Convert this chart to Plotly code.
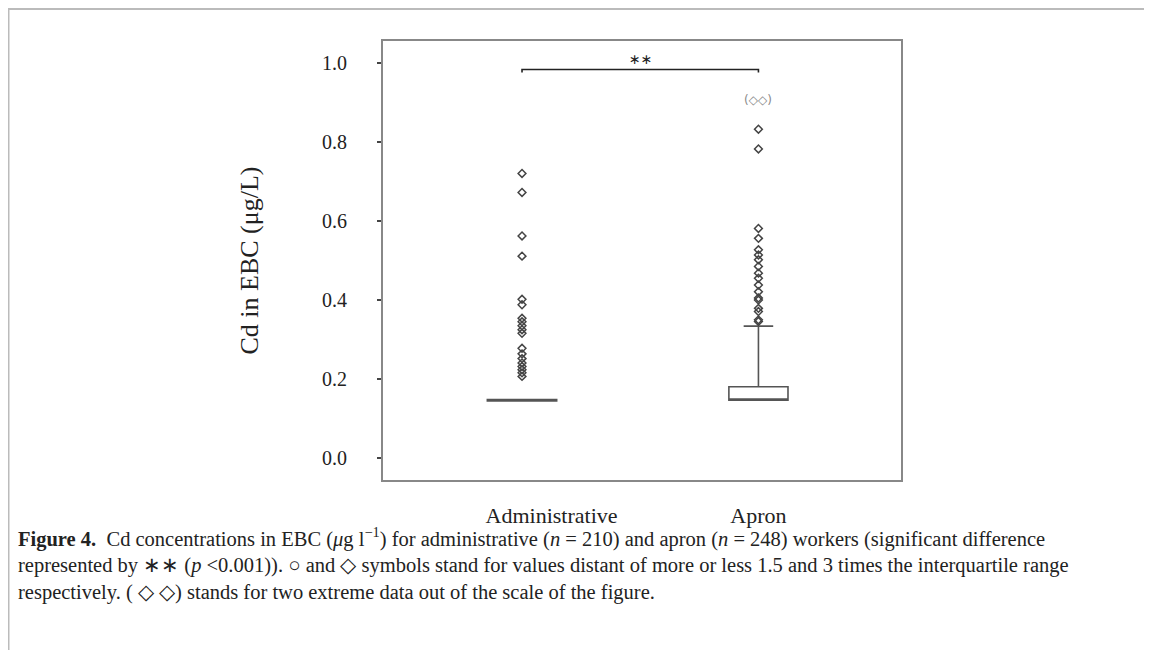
import plotly.graph_objects as go

# ---- data ----
groups = ["Administrative", "Apron"]
positions = [0, 1]
q1 = [0.147, 0.147]
median = [0.147, 0.147]
q3 = [0.147, 0.181]
lower = [0.147, 0.147]
upper = [0.147, 0.334]

admin_outliers = [0.720, 0.672, 0.562, 0.511, 0.402, 0.388, 0.354, 0.345, 0.335,
                  0.325, 0.316, 0.278, 0.264, 0.252, 0.241, 0.232, 0.224, 0.216,
                  0.207]
apron_outliers = [0.832, 0.782, 0.581, 0.556, 0.527, 0.514, 0.502, 0.485, 0.468,
                  0.455, 0.438, 0.421, 0.405, 0.400, 0.379, 0.371, 0.350, 0.346]
extreme_label_y = 0.906
bracket_y = 0.983

y_ticks = [0.0, 0.2, 0.4, 0.6, 0.8, 1.0]
y_ticktext = ["0.0", "0.2", "0.4", "0.6", "0.8", "1.0"]

caption = ("<b>Figure 4.</b>  Cd concentrations in EBC (<i>μ</i>g l<sup>−1</sup>) for administrative (<i>n</i> = 210) "
           "and apron (<i>n</i> = 248) workers (significant difference<br>"
           "represented by ∗∗ (<i>p</i> &lt;0.001)). ○ and ◇ symbols stand for values distant of more or less 1.5 "
           "and 3 times the interquartile range<br>"
           "respectively. ( ◇ ◇) stands for two extreme data out of the scale of the figure.")

W, H = 1152, 650
L, R, T, B = 375, 259, 33, 178
pw = W - L - R
ph = H - T - B

fig = go.Figure()

box_widths = [0.30, 0.25]
box_line_widths = [3, 1.6]
for i in range(len(groups)):
    fig.add_trace(go.Box(
        x=[positions[i]], q1=[q1[i]], median=[median[i]], q3=[q3[i]],
        lowerfence=[lower[i]], upperfence=[upper[i]],
        width=box_widths[i], whiskerwidth=0.5,
        fillcolor="white", line=dict(color="#555555", width=box_line_widths[i]),
        boxpoints=False, hoverinfo="skip", showlegend=False,
    ))

fig.add_trace(go.Scatter(
    x=[positions[0]] * len(admin_outliers), y=admin_outliers, mode="markers",
    marker=dict(symbol="diamond-open", size=6, color="#444444", line=dict(width=1.5)),
    showlegend=False,
))
fig.add_trace(go.Scatter(
    x=[positions[1]] * len(apron_outliers), y=apron_outliers, mode="markers",
    marker=dict(symbol="diamond-open", size=6, color="#444444", line=dict(width=1.5)),
    showlegend=False,
))

# significance bracket
fig.add_shape(type="path",
              path=f"M {positions[0]},{bracket_y-0.008} L {positions[0]},{bracket_y} "
                   f"L {positions[1]},{bracket_y} L {positions[1]},{bracket_y-0.008}",
              xref="x", yref="y", line=dict(color="#222222", width=1.6))
fig.add_annotation(x=(positions[0] + positions[1]) / 2, y=bracket_y, xref="x", yref="y",
                   text="∗∗", showarrow=False, yanchor="bottom", yshift=0,
                   font=dict(family="DejaVu Sans", size=14, color="#222222"))
fig.add_annotation(x=positions[1], y=extreme_label_y, xref="x", yref="y",
                   text="(◇◇)", showarrow=False,
                   font=dict(family="DejaVu Sans", size=12, color="#8a8a8a"))


def px_x(p):
    return (p - L) / pw


def px_y(p):
    return (H - B - p) / ph


# outer page frame lines
fig.add_shape(type="line", xref="paper", yref="paper",
              x0=px_x(0), x1=px_x(1152), y0=px_y(1), y1=px_y(1),
              line=dict(color="#bbbbbb", width=2))
fig.add_shape(type="line", xref="paper", yref="paper",
              x0=px_x(0), x1=px_x(0), y0=px_y(1), y1=px_y(650),
              line=dict(color="#bbbbbb", width=3))

fig.add_annotation(xref="paper", yref="paper", x=px_x(8), y=px_y(514),
                   xanchor="left", yanchor="top", align="left", showarrow=False,
                   text=caption,
                   font=dict(family="Liberation Serif", size=20.5, color="#222222"))

fig.update_layout(
    width=W, height=H,
    margin=dict(l=L, r=R, t=T, b=B),
    paper_bgcolor="white", plot_bgcolor="white",
    font=dict(family="Liberation Serif", color="#222222"),
    xaxis=dict(range=[-0.588, 1.603], tickvals=[0.125, 1.0], ticktext=groups,
               showgrid=False, zeroline=False, ticks="",
               showline=True, mirror=True, linecolor="#888888", linewidth=2,
               tickfont=dict(size=22, family="Liberation Serif", color="#222222"),
               ticklabelstandoff=15),
    yaxis=dict(range=[-0.0549, 1.0549], tickvals=y_ticks, ticktext=y_ticktext,
               showgrid=False, zeroline=False, ticks="outside", ticklen=4,
               tickcolor="#444444", tickwidth=1.5,
               showline=True, mirror=True, linecolor="#888888", linewidth=2,
               tickfont=dict(size=20, family="Liberation Serif", color="#222222"),
               ticklabelstandoff=26,
               title=dict(text="Cd in EBC (μg/L)", standoff=56,
                          font=dict(size=26, family="Liberation Serif", color="#222222"))),
)

fig.write_html("out.html")
